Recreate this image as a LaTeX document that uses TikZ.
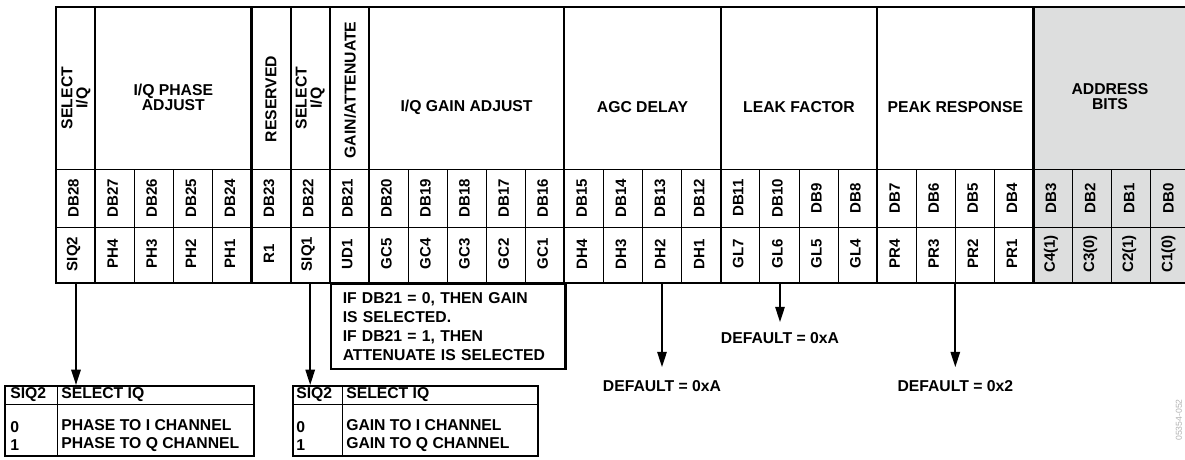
\documentclass[tikz,border=0pt]{standalone}
\usepackage{fontspec}
\setmainfont{Liberation Sans}
\usetikzlibrary{arrows.meta,positioning,calc}
\definecolor{addrgray}{RGB}{221,222,222}

\begin{document}
\begin{tikzpicture}[
  x=0.75pt, y=-0.75pt,
  thk/.style={line width=1.6pt},
  thn/.style={line width=0.6pt},
  arr/.style={-{Triangle[length=11.5pt,width=7pt]}, line width=1.4pt},
  hdr/.style={font=\bfseries\fontsize{11.8}{11.3}\selectfont, align=center, inner sep=0pt},
  bit/.style={font=\bfseries\fontsize{11.3}{13}\selectfont, rotate=90, inner sep=0pt},
  txt/.style={font=\bfseries\fontsize{11.8}{13.5}\selectfont, align=left, inner sep=0pt},
  tbl/.style={draw, thk, inner sep=0pt}
]
  \useasboundingbox (0,0) rectangle (1185,460);

  % address bits are shaded
  \fill[addrgray] (1033.5,7) rectangle (1190,283);

  % register grid
  \draw[thn] (56,169) -- (1190,169) (56,227) -- (1190,227);
  \foreach \k in {1,...,28}
    \draw[thn] (56+\k*39.1,169) -- (56+\k*39.1,283);
  \draw[thk] (1190,7) -- (56,7) -- (56,283) -- (1190,283);
  \foreach \k in {1,5,6,7,8,13,17,21,25}
    \draw[thk] (56+\k*39.1,7) -- (56+\k*39.1,283);
  \coordinate (tbot) at (0,283);

  % bit numbers and bit names
  \foreach \db/\nm [count=\i from 0] in {28/SIQ2,27/PH4,26/PH3,25/PH2,24/PH1,23/R1,22/SIQ1,
      21/UD1,20/GC5,19/GC4,18/GC3,17/GC2,16/GC1,15/DH4,14/DH3,13/DH2,12/DH1,11/GL7,10/GL6,
      9/GL5,8/GL4,7/PR4,6/PR3,5/PR2,4/PR1,3/C4(1),2/C3(0),1/C2(1),0/C1(0)} {
    \node[bit] (b\db) at (54+\i*39.1+19.55,198) {DB\db};
    \node[bit] (n\db) at (54+\i*39.1+19.55,254) {\nm};
  }

  % field headers
  \node[hdr, rotate=90] (hSelB) at (76,98) {SELECT\\I/Q};
  \node[hdr] (hPhase) at (173.3,97) {I/Q PHASE\\ADJUST};
  \node[hdr, rotate=90] (hRes) at (271,99) {RESERVED};
  \node[hdr, rotate=90] (hSelA) at (310.2,98) {SELECT\\I/Q};
  \node[hdr, rotate=90] (hGainAtt) at (350,90) {GAIN/ATTENUATE};
  \node[hdr] (hGain) at (466.5,107) {I/Q GAIN ADJUST};
  \node[hdr] (hAgc) at (642.5,107) {AGC DELAY};
  \node[hdr] (hLeak) at (799,107) {LEAK FACTOR};
  \node[hdr] (hPeak) at (955.3,107) {PEAK RESPONSE};
  \node[hdr] (hAddr) at (1110,97) {ADDRESS\\BITS};

  % note under DB21..DB16
  \node[tbl, anchor=north west, minimum height=63.75pt, text width=158pt, inner xsep=9pt,
        font=\bfseries\fontsize{11.8}{14.25}\selectfont, align=left] (note) at (329.7,283)
    {IF DB21 = 0, THEN GAIN\\IS SELECTED.\\IF DB21 = 1, THEN\\ATTENUATE IS SELECTED};

  % select I/Q tables
  \node[tbl, anchor=north west, minimum width=186.75pt, minimum height=52.5pt] (tblA) at (4,385) {};
  \draw[thn] ($(tblA.north west)+(0,19)$) -- ($(tblA.north east)+(0,19)$);
  \draw[thn] ($(tblA.north west)+(53,0)$) -- ($(tblA.south west)+(53,0)$);
  \node[txt, anchor=west] (tA0) at ($(tblA.north west)+(6,10)$) {SIQ2};
  \node[txt, anchor=west] (tA1) at ($(tblA.north west)+(57,10)$) {SELECT IQ};
  \node[txt, anchor=west] (tA2) at ($(tblA.north west)+(6,51)$) {0\\1};
  \node[txt, anchor=west] (tA3) at ($(tblA.north west)+(57,51)$) {PHASE TO I CHANNEL\\PHASE TO Q CHANNEL};

  \node[tbl, anchor=north west, minimum width=183.75pt, minimum height=52.5pt] (tblB) at (292,385) {};
  \draw[thn] ($(tblB.north west)+(0,19)$) -- ($(tblB.north east)+(0,19)$);
  \draw[thn] ($(tblB.north west)+(50,0)$) -- ($(tblB.south west)+(50,0)$);
  \node[txt, anchor=west] (tB0) at ($(tblB.north west)+(4,10)$) {SIQ2};
  \node[txt, anchor=west] (tB1) at ($(tblB.north west)+(54,10)$) {SELECT IQ};
  \node[txt, anchor=west] (tB2) at ($(tblB.north west)+(4,51)$) {0\\1};
  \node[txt, anchor=west] (tB3) at ($(tblB.north west)+(54,51)$) {GAIN TO I CHANNEL\\GAIN TO Q CHANNEL};

  % defaults
  \node[txt] (dflA) at (662,386) {DEFAULT = 0xA};
  \node[txt] (dflB) at (780,338) {DEFAULT = 0xA};
  \node[txt] (dflC) at (955.3,386) {DEFAULT = 0x2};

  \draw[arr] (hSelB |- tbot) -- (hSelB |- tblA.north);
  \draw[arr] (hSelA |- tbot) -- (hSelA |- tblB.north);
  \draw[arr] (dflA |- tbot) -- ($(dflA.north)+(0,-13)$);
  \draw[arr] (dflB |- tbot) -- ($(dflB.north)+(0,-10)$);
  \draw[arr] (dflC |- tbot) -- ($(dflC.north)+(0,-13)$);

  \node[font=\fontsize{6.5}{7}\selectfont, text=gray!60, rotate=90] (figid) at (1179,420) {05354-052};
\end{tikzpicture}
\end{document}
